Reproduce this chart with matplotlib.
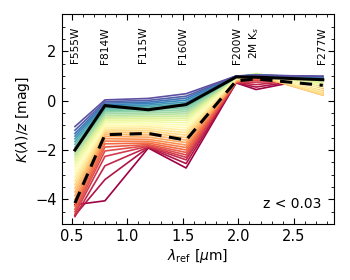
import matplotlib
matplotlib.use("Agg")
import matplotlib.pyplot as plt
import numpy as np
from matplotlib.ticker import MultipleLocator

# reference wavelengths of the filters (micron)
lam_ref = [0.53, 0.80, 1.19, 1.53, 1.98, 2.16, 2.76]
filter_names = ["F555W", "F814W", "F115W", "F160W", "F200W", r"2M K$_s$", "F277W"]
label_x = [0.53, 0.80, 1.14, 1.50, 1.985, 2.145, 2.755]

# K(lambda)/z per filter, one entry per model curve (index 0 = reddest)
k_f555w = [-4.22, -4.65, -4.70, -4.60, -4.50, -4.40, -4.28, -4.15, -4.00, -3.85,
           -3.70, -3.55, -3.40, -3.25, -3.10, -2.95, -2.80, -2.65, -2.52, -2.40,
           -2.28, -2.18, -2.08, -1.98, -1.88, -1.77, -1.66, -1.55, -1.44, -1.33,
           -1.20, -1.05]
k_f814w = [-4.06, -3.20, -2.64, -2.26, -2.04, -1.88, -1.75, -1.64, -1.54, -1.45,
           -1.37, -1.30, -1.23, -1.16, -1.09, -1.02, -0.95, -0.88, -0.81, -0.74,
           -0.67, -0.60, -0.53, -0.46, -0.40, -0.34, -0.28, -0.22, -0.16, -0.10,
           -0.04, 0.03]
k_f115w = [-1.92, -1.90, -1.88, -1.85, -1.82, -1.78, -1.72, -1.65, -1.57, -1.48,
           -1.39, -1.30, -1.22, -1.14, -1.06, -0.99, -0.92, -0.85, -0.78, -0.71,
           -0.64, -0.57, -0.50, -0.43, -0.36, -0.30, -0.24, -0.18, -0.12, -0.06,
           0.01, 0.09]
k_f160w = [-2.73, -2.55, -2.40, -2.30, -2.20, -2.10, -2.00, -1.90, -1.80, -1.70,
           -1.60, -1.50, -1.40, -1.30, -1.20, -1.10, -1.00, -0.90, -0.80, -0.71,
           -0.62, -0.53, -0.45, -0.37, -0.29, -0.21, -0.13, -0.06, 0.02, 0.10,
           0.18, 0.28]
k_f200w = [0.72, 0.72, 0.73, 0.74, 0.75, 0.76, 0.77, 0.78, 0.79, 0.80,
           0.82, 0.84, 0.86, 0.88, 0.89, 0.90, 0.91, 0.92, 0.93, 0.94,
           0.95, 0.95, 0.96, 0.96, 0.97, 0.97, 0.98, 0.98, 0.99, 0.99,
           1.00, 1.00]
k_2mks = [0.45, 0.55, 0.65, 0.75, 0.82, 0.88, 0.92, 0.95, 0.98, 1.00,
          1.02, 1.04, 1.06, 1.08, 1.09, 1.10, 1.10, 1.10, 1.09, 1.08,
          1.07, 1.06, 1.05, 1.05, 1.04, 1.04, 1.03, 1.03, 1.03, 1.03,
          1.03, 1.03]
k_f277w = [0.98, 0.95, 0.92, 0.80, 0.62, 0.50, 0.42, 0.36, 0.30, 0.26,
           0.23, 0.22, 0.25, 0.30, 0.37, 0.45, 0.53, 0.61, 0.68, 0.74,
           0.79, 0.84, 0.87, 0.89, 0.91, 0.93, 0.94, 0.95, 0.96, 0.97,
           0.98, 0.99]

k_median = [-2.00, -0.20, -0.37, -0.16, 0.96, 0.95, 0.85]
k_dashed = [-4.15, -1.38, -1.33, -1.60, 0.80, 0.88, 0.62]

curves = np.array([k_f555w, k_f814w, k_f115w, k_f160w, k_f200w, k_2mks, k_f277w]).T

fig = plt.figure(figsize=(3.5, 2.8), dpi=100)
ax = fig.add_axes([0.176, 0.2, 0.778, 0.749])

cmap = plt.get_cmap("Spectral")
n = len(curves)
for i, k in enumerate(curves):
    ax.plot(lam_ref, k, color=cmap(i / (n - 1)), lw=1.2)

ax.plot(lam_ref, k_median, color="k", lw=2.2)
ax.plot(lam_ref, k_dashed, color="k", lw=2.2, ls=(0, (4, 2.5)))

for x, name in zip(label_x, filter_names):
    ax.text(x, 0.94, name, rotation=90, ha="center", va="top", fontsize=7.7,
            transform=ax.get_xaxis_transform())

ax.text(0.955, 0.06, "z < 0.03", ha="right", va="bottom", fontsize=10,
        transform=ax.transAxes)

ax.set_xlim(0.41, 2.86)
ax.set_ylim(-5, 3.5)
ax.xaxis.set_major_locator(MultipleLocator(0.5))
ax.xaxis.set_minor_locator(MultipleLocator(0.1))
ax.yaxis.set_major_locator(MultipleLocator(2))
ax.yaxis.set_minor_locator(MultipleLocator(0.5))
ax.tick_params(which="both", direction="in", top=True, right=True, labelsize=10.5)
ax.tick_params(which="major", length=4.5)
ax.tick_params(which="minor", length=2.2)

ax.set_xlabel(r"$\lambda_{\rm ref}$ [$\mu$m]", fontsize=10, labelpad=2)
ax.set_ylabel(r"$K(\lambda)/z$ [mag]", fontsize=10, labelpad=2)

fig.savefig("out.png", dpi=100)
